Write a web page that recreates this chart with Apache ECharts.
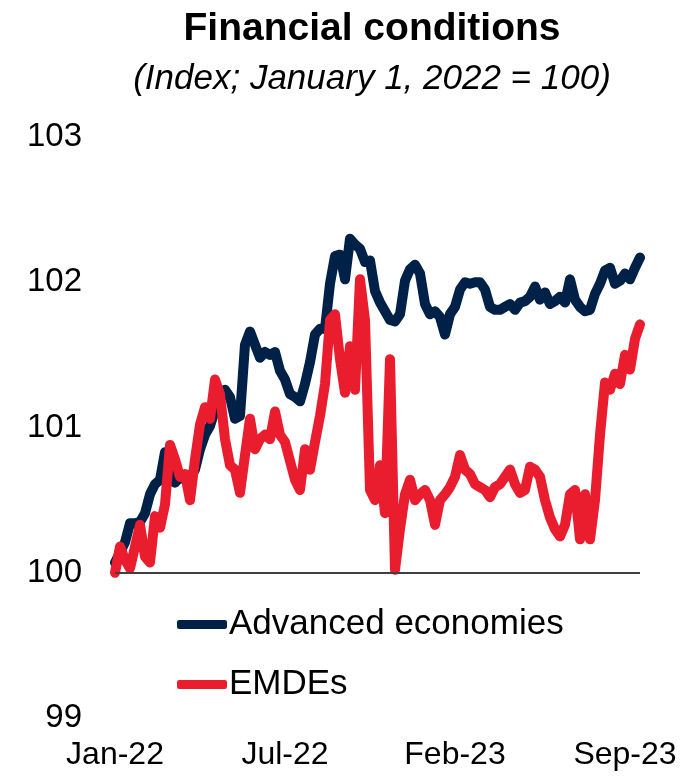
<!DOCTYPE html>
<html lang="en">
<head>
    <meta charset="UTF-8">
    <title>Financial conditions</title>
    <script src="https://cdn.jsdelivr.net/npm/echarts@6/dist/echarts.min.js"></script>
    <style>
        body { margin: 0; background: #ffffff; }
        #chart { width: 689px; height: 780px; }
    </style>
</head>
<body>
<div id="chart"></div>
<script>
    var advanced = [
        100.07, 100.14, 100.21, 100.34, 100.34, 100.35, 100.41, 100.54, 100.61, 100.64,
        100.83, 100.71, 100.62, 100.66, 100.64, 100.66, 100.71, 100.85, 100.95, 101.01,
        101.12, 101.19, 101.26, 101.21, 101.06, 101.08, 101.57, 101.66, 101.57, 101.48,
        101.52, 101.50, 101.52, 101.39, 101.33, 101.23, 101.21, 101.18, 101.30, 101.45,
        101.64, 101.68, 101.68, 101.99, 102.18, 102.19, 102.02, 102.30, 102.26, 102.23,
        102.14, 102.15, 101.94, 101.86, 101.80, 101.74, 101.73, 101.78, 102.01, 102.09,
        102.12, 102.06, 101.85, 101.78, 101.80, 101.76, 101.64, 101.78, 101.83, 101.95,
        102.00, 101.99, 102.00, 102.00, 101.95, 101.83, 101.81, 101.81, 101.83, 101.85,
        101.81, 101.86, 101.87, 101.90, 101.97, 101.88, 101.93, 101.85, 101.87, 101.90,
        101.86, 102.02, 101.88, 101.83, 101.80, 101.81, 101.92, 101.99, 102.08, 102.10,
        101.99, 102.01, 102.06, 102.02, 102.10, 102.17
    ];
    var emdes = [
        100.00, 100.18, 100.09, 100.03, 100.18, 100.33, 100.11, 100.07, 100.39, 100.31,
        100.47, 100.88, 100.78, 100.66, 100.68, 100.50, 100.78, 101.02, 101.14, 101.06,
        101.33, 101.23, 100.92, 100.74, 100.71, 100.55, 100.81, 101.06, 100.85, 100.92,
        100.95, 100.92, 101.11, 100.95, 100.90, 100.77, 100.64, 100.57, 100.85, 100.71,
        100.90, 101.08, 101.30, 101.74, 101.78, 101.47, 101.24, 101.56, 101.26, 102.02,
        101.74, 100.57, 100.50, 100.74, 100.41, 101.47, 100.02, 100.30, 100.54, 100.64,
        100.50, 100.54, 100.57, 100.50, 100.33, 100.50, 100.54, 100.59, 100.66, 100.81,
        100.71, 100.68, 100.61, 100.59, 100.57, 100.52, 100.59, 100.61, 100.66, 100.71,
        100.61, 100.55, 100.57, 100.73, 100.71, 100.66, 100.50, 100.38, 100.30, 100.25,
        100.33, 100.54, 100.57, 100.23, 100.54, 100.23, 100.50, 100.95, 101.31, 101.26,
        101.37, 101.30, 101.50, 101.40, 101.61, 101.71
    ];
    var tickLabels = ['Jan-22', 'Jul-22', 'Feb-23', 'Sep-23'];
    var tickIndex = [0, 34, 68, 102];
    var seriesNames = ['Advanced economies', 'EMDEs'];

    var categories = advanced.map(function (v, i) { return i; });
    var font = '"Liberation Sans", Arial, sans-serif';

    var myChart = echarts.init(document.getElementById('chart'));
    myChart.setOption({
        animation: false,
        backgroundColor: '#ffffff',
        title: [{
            text: 'Financial conditions',
            left: 367,
            top: 5,
            textAlign: 'center',
            textStyle: { fontFamily: font, fontSize: 39, fontWeight: 'bold', color: '#000000' }
        }, {
            text: '(Index; January 1, 2022 = 100)',
            left: 367,
            top: 57,
            textAlign: 'center',
            textStyle: { fontFamily: font, fontSize: 35, fontStyle: 'italic', fontWeight: 'normal', color: '#000000' }
        }],
        legend: {
            orient: 'vertical',
            left: 177,
            top: 607,
            padding: 0,
            itemGap: 25,
            itemWidth: 50,
            itemHeight: 9,
            icon: 'roundRect',
            data: seriesNames,
            textStyle: { fontFamily: font, fontSize: 35, color: '#000000', padding: [0, 0, 0, -3] }
        },
        grid: { left: 115, right: 49, top: 137, bottom: 62 },
        xAxis: {
            type: 'category',
            data: categories,
            boundaryGap: false,
            axisLine: { show: false },
            axisTick: { show: false },
            axisLabel: {
                margin: 21,
                fontFamily: font,
                fontSize: 32,
                color: '#000000',
                interval: function (i) { return tickIndex.indexOf(i) >= 0; },
                formatter: function (v, i) {
                    var k = tickIndex.indexOf(Number(v));
                    return k >= 0 ? tickLabels[k] : '';
                }
            }
        },
        yAxis: {
            type: 'value',
            min: 99,
            max: 103,
            interval: 1,
            axisLine: { show: false },
            axisTick: { show: false },
            splitLine: { show: false },
            axisLabel: { margin: 33, fontFamily: font, fontSize: 33, color: '#000000' }
        },
        series: [{
            name: seriesNames[0],
            type: 'line',
            data: advanced,
            showSymbol: false,
            color: '#002147',
            lineStyle: { width: 10, color: '#002147', cap: 'round', join: 'round' },
            markLine: {
                silent: true,
                symbol: 'none',
                label: { show: false },
                lineStyle: { color: '#3f3f3f', width: 2, type: 'solid' },
                data: [{ yAxis: 100 }]
            }
        }, {
            name: seriesNames[1],
            type: 'line',
            data: emdes,
            showSymbol: false,
            color: '#ea1d2f',
            lineStyle: { width: 10, color: '#ea1d2f', cap: 'round', join: 'round' }
        }]
    });
</script>
</body>
</html>
